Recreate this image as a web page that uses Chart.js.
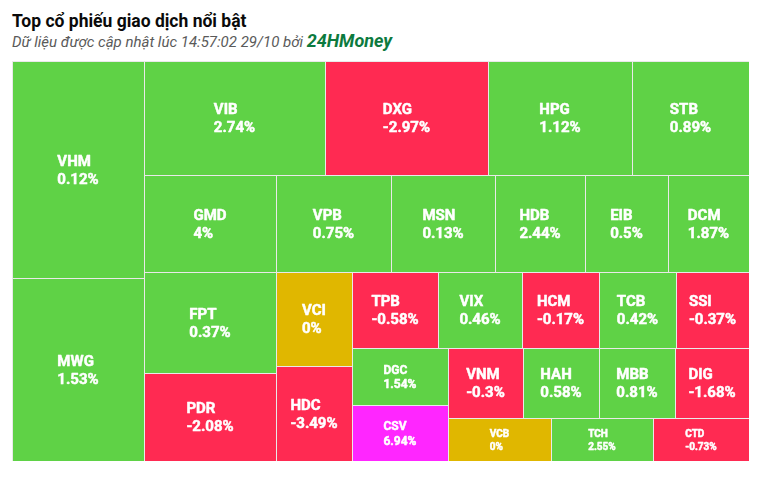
<!DOCTYPE html>
<html>
<head>
<meta charset="utf-8">
<script src="https://cdn.jsdelivr.net/npm/chart.js@4.4.1/dist/chart.umd.min.js"></script>
<style>
  html, body { margin: 0; padding: 0; background: #ffffff; width: 767px; height: 477px; overflow: hidden; }
  #title { position: absolute; left: 12px; top: 11px; font: bold 17.5px Roboto, "Noto Sans", sans-serif; color: #0a0a0a; white-space: nowrap; line-height: 21px; }
  #subtitle { position: absolute; left: 12px; top: 32px; font: italic 15px Roboto, "Noto Sans", sans-serif; color: #5a5a5a; white-space: nowrap; line-height: 18px; }
  #subtitle b { font-size: 18px; color: #0c7a3e; font-weight: bold; }
  #wrap { position: absolute; left: 12px; top: 61px; width: 737px; height: 400px; }
</style>
</head>
<body>
<div id="title">Top cổ phiếu giao dịch nổi bật</div>
<div id="subtitle">Dữ liệu được cập nhật lúc 14:57:02 29/10 bởi <b>24HMoney</b></div>
<div id="wrap"><canvas id="c"></canvas></div>
<script>
// ---- data (in the order the treemap lays them out) ----
const tickers = ['VHM','MWG','VIB','DXG','HPG','STB','GMD','FPT','PDR','VPB','MSN','HDB','EIB','DCM','VCI','HDC','TPB','VIX','HCM','TCB','SSI','DGC','CSV','VNM','HAH','MBB','DIG','VCB','TCH','CTD'];
const tradeValues = [287, 241, 206.3, 185.8, 164.2, 133.4, 128, 133.3, 116.2, 111.6, 100.9, 87.3, 80.5, 78.6, 71.4, 72.2, 65.4, 63.8, 58.5, 58.5, 55.5, 54.7, 53.8, 52.5, 53.2, 53.2, 51.8, 44.3, 43.9, 41.3];
const changes = [0.12, 1.53, 2.74, -2.97, 1.12, 0.89, 4, 0.37, -2.08, 0.75, 0.13, 2.44, 0.5, 1.87, 0, -3.49, -0.58, 0.46, -0.17, 0.42, -0.37, 1.54, 6.94, -0.3, 0.58, 0.81, -1.68, 0, 2.55, -0.73];

// ---- style ----
const COLOR_UP = '#5fd246';
const COLOR_DOWN = '#ff2a52';
const COLOR_REF = '#e0b700';
const COLOR_CEIL = '#ff26ff';
const BORDER = '#e9e9e9';
const LAYOUT_W = 737, LAYOUT_H = 400;

function colorFor(c) {
  if (c >= 6.9) return COLOR_CEIL;
  if (c > 0) return COLOR_UP;
  if (c < 0) return COLOR_DOWN;
  return COLOR_REF;
}

// squarified layout (alternating direction, low-aspect-ratio grouping)
function layoutCells(values, W, H) {
  const total = values.reduce((a, b) => a + b, 0);
  const out = [];
  const plot = { x: 0, y: 0 };
  const g = { height: H, width: W, direction: 0, total: 0, nW: 0, lW: 0, nH: 0, lH: 0, elArr: [],
              lP: { total: 0, lH: 0, nH: 0, lW: 0, nW: 0, nR: 0, lR: 0 } };
  const ar = (w, h) => Math.max(w / h, h / w);
  function add(el) {
    g.lP.total = g.elArr[g.elArr.length - 1];
    g.total += el;
    if (g.direction === 0) {
      g.lW = g.nW; g.lP.lH = g.lP.total / g.lW; g.lP.lR = ar(g.lW, g.lP.lH);
      g.nW = g.total / g.height; g.lP.nH = g.lP.total / g.nW; g.lP.nR = ar(g.nW, g.lP.nH);
    } else {
      g.lH = g.nH; g.lP.lW = g.lP.total / g.lH; g.lP.lR = ar(g.lP.lW, g.lH);
      g.nH = g.total / g.width; g.lP.nW = g.lP.total / g.nH; g.lP.nR = ar(g.lP.nW, g.nH);
    }
    g.elArr.push(el);
  }
  function calc(last) {
    const gW = last ? g.nW : g.lW, gH = last ? g.nH : g.lH;
    const keep = last ? null : g.elArr[g.elArr.length - 1];
    const end = g.elArr.length - 1;
    g.elArr.forEach((p, i) => {
      if (last || i < end) {
        let pW, pH;
        if (g.direction === 0) { pW = gW; pH = p / pW; } else { pH = gH; pW = p / pH; }
        out.push({ x: plot.x, y: plot.y, w: pW, h: pH });
        if (g.direction === 0) plot.y += pH; else plot.x += pW;
      }
    });
    g.nW = 0; g.lW = 0; g.elArr = []; g.total = 0;
    if (g.direction === 0) g.width -= gW; else g.height -= gH;
    plot.y = H - g.height;
    plot.x = W - g.width;
    g.direction = 1 - g.direction;
    if (!last) add(keep);
  }
  values.forEach((v, i) => {
    add(W * H * v / total);
    if (g.lP.nR > g.lP.lR) calc(false);
    if (i === values.length - 1) calc(true);
  });
  return out;
}

class TreemapCell extends Chart.Element {
  draw(ctx) {
    const x0 = Math.round(this.x), y0 = Math.round(this.y);
    const x1 = Math.round(this.x + this.width), y1 = Math.round(this.y + this.height);
    ctx.save();
    ctx.fillStyle = this.fill;
    ctx.fillRect(x0, y0, x1 - x0, y1 - y0);
    ctx.strokeStyle = BORDER;
    ctx.lineWidth = 1;
    ctx.strokeRect(x0 + 0.5, y0 + 0.5, x1 - x0, y1 - y0);
    ctx.restore();
  }
  drawLabel(ctx) {
    const h = this.height;
    const fs = h < 50 ? 10 : (h < 60 ? 12 : 15);
    const lh = fs * 1.22;
    ctx.save();
    ctx.font = 'bold ' + fs + 'px Roboto, "DejaVu Sans", sans-serif';
    ctx.fillStyle = '#ffffff';
    ctx.strokeStyle = '#ffffff';
    ctx.lineWidth = 0.5;
    ctx.lineJoin = 'round';
    ctx.textBaseline = 'middle';
    ctx.textAlign = 'left';
    const l1 = this.ticker, l2 = this.pct;
    const bw = Math.max(ctx.measureText(l1).width, ctx.measureText(l2).width);
    const cx = this.x + this.width / 2, cy = this.y + h / 2 + 1.5;
    const left = cx - bw / 2;
    ctx.strokeText(l1, left, cy - lh / 2);
    ctx.fillText(l1, left, cy - lh / 2);
    ctx.strokeText(l2, left, cy + lh / 2);
    ctx.fillText(l2, left, cy + lh / 2);
    ctx.restore();
  }
  inRange() { return false; }
  getCenterPoint() { return { x: this.x + this.width / 2, y: this.y + this.height / 2 }; }
}
TreemapCell.id = 'treemapCell';
TreemapCell.defaults = {};

class TreemapController extends Chart.DatasetController {
  update(mode) {
    const meta = this._cachedMeta;
    const ds = this.getDataset();
    const xs = meta.xScale, ys = meta.yScale;
    const rects = layoutCells(ds.data, xs.max - xs.min, ys.max - ys.min);
    meta.data.forEach((el, i) => {
      const r = rects[i];
      const px0 = xs.getPixelForValue(xs.min + r.x), px1 = xs.getPixelForValue(xs.min + r.x + r.w);
      const py0 = ys.getPixelForValue(ys.min + r.y), py1 = ys.getPixelForValue(ys.min + r.y + r.h);
      this.updateElement(el, i, {
        x: Math.min(px0, px1), y: Math.min(py0, py1),
        width: Math.abs(px1 - px0), height: Math.abs(py1 - py0),
        fill: ds.cellColors[i], ticker: ds.cellLabels[i], pct: ds.cellChanges[i]
      }, 'none');
    });
  }
  draw() {
    const ctx = this.chart.ctx;
    const els = this._cachedMeta.data;
    els.forEach(el => el.draw(ctx));
    els.forEach(el => el.drawLabel(ctx));
  }
}
TreemapController.id = 'treemap';
TreemapController.defaults = { dataElementType: 'treemapCell', datasetElementType: false };
TreemapController.overrides = {
  scales: { x: { type: 'linear', display: false }, y: { type: 'linear', display: false } }
};
Chart.register(TreemapController, TreemapCell);

new Chart(document.getElementById('c'), {
  type: 'treemap',
  data: {
    datasets: [{
      label: 'Giá trị giao dịch',
      data: tradeValues,
      cellLabels: tickers,
      cellChanges: changes.map(c => c + '%'),
      cellColors: changes.map(colorFor)
    }]
  },
  options: {
    responsive: true,
    maintainAspectRatio: false,
    animation: false,
    events: [],
    layout: { padding: 0 },
    plugins: { legend: { display: false }, tooltip: { enabled: false }, title: { display: false } },
    scales: {
      x: { type: 'linear', min: 0, max: LAYOUT_W, display: false },
      y: { type: 'linear', min: 0, max: LAYOUT_H, reverse: true, display: false }
    }
  }
});
</script>
</body>
</html>
